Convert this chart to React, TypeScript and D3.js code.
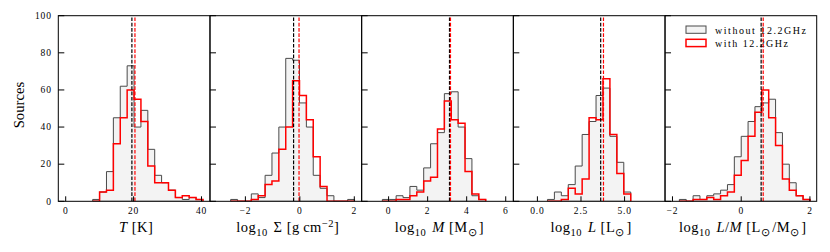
import React from 'react';
import * as d3 from 'd3';

// ---------- data ----------
const yTicks = [0, 20, 40, 60, 80, 100];
const yDomain = [0, 100];

const tDomain = [-2.18, 42.5];
const tTicks = [0, 20, 40];
const tTickLabels = ['0', '20', '40'];
const tEdges = [7.95, 9.98, 12.01, 14.04, 16.07, 18.1, 20.13, 22.16, 24.19, 26.22, 28.25, 30.28, 32.31, 34.34, 36.37, 38.4, 40.43];
const tWithout = [1, 5, 16, 45, 62, 73, 40, 49, 28, 14, 10, 6, 2, 1, 2, 1];
const tWith = [0, 5, 6, 31, 45, 60, 55, 43, 19, 10, 10, 6, 2, 3, 2, 1];
const tMedians = [19.5, 20.4];

const sDomain = [-3.3, 2.27];
const sTicks = [-2, 0, 2];
const sTickLabels = ['\u22122', '0', '2'];
const sEdges = [-2.54, -2.287, -2.035, -1.782, -1.529, -1.276, -1.024, -0.771, -0.518, -0.266, -0.013, 0.24, 0.492, 0.745, 0.998, 1.251, 1.503, 1.756, 2.009];
const sWithout = [1, 0, 0, 4, 2, 14, 26, 40, 77, 76, 53, 40, 14, 7, 3, 0, 0, 1];
const sWith = [0, 0, 0, 1, 3, 9, 11, 28, 40, 65, 57, 44, 24, 8, 0, 0, 0, 0];
const sMedians = [-0.23, -0.03];

const mDomain = [-1.38, 6.39];
const mTicks = [0, 2, 4, 6];
const mTickLabels = ['0', '2', '4', '6'];
const mEdges = [-0.32, 0.033, 0.386, 0.739, 1.092, 1.445, 1.798, 2.151, 2.504, 2.857, 3.21, 3.563, 3.916, 4.269, 4.622, 4.975];
const mWithout = [1, 1, 3, 2, 8, 6, 18, 31, 37, 58, 59, 40, 23, 3, 1];
const mWith = [0, 0, 1, 1, 3, 5, 11, 13, 39, 54, 44, 42, 16, 4, 1];
const mMedians = [3.12, 3.17];

const lDomain = [-1.38, 7.32];
const lTicks = [0, 2.5, 5];
const lTickLabels = ['0.0', '2.5', '5.0'];
const lEdges = [0.577, 0.975, 1.373, 1.771, 2.169, 2.567, 2.965, 3.363, 3.761, 4.159, 4.557, 4.955, 5.353];
const lWithout = [1, 5, 3, 9, 19, 36, 43, 57, 61, 35, 21, 5];
const lWith = [0, 0, 1, 7, 4, 12, 45, 44, 66, 36, 15, 4];
const lMedians = [3.63, 3.79];

const lmDomain = [-2.217, 2.197];
const lmTicks = [-2, 0, 2];
const lmTickLabels = ['\u22122', '0', '2'];
const lmEdges = [-1.8, -1.6, -1.4, -1.2, -1.0, -0.8, -0.6, -0.4, -0.2, 0.0, 0.2, 0.4, 0.6, 0.8, 1.0, 1.2, 1.4, 1.6, 1.8, 2.0];
const lmWithout = [1, 0, 3, 1, 3, 4, 6, 9, 24, 35, 43, 51, 53, 55, 37, 20, 10, 3, 1];
const lmWith = [0, 0, 1, 1, 2, 1, 3, 5, 14, 22, 35, 48, 60, 45, 30, 12, 6, 3, 1];
const lmMedians = [0.58, 0.64];

const legendLabels = ['without 12.2GHz', 'with 12.2GHz'];
const yLabel = 'Sources';

// ---------- layout ----------
const W = 830;
const H = 252;
const LEFT = 58.3;
const PW = 151.68;
const TOP = 15.7;
const BOTTOM = 201.3;
const FONT = "'Liberation Serif', 'Times New Roman', serif";
const GREY_EDGE = '#4a4a4a';
const GREY_FILL = '#f3f3f3';
const RED = '#ff0000';
const LABEL_FS = 14.5;
const SUB_FS = 10.5;

type P = {
  domain: number[];
  ticks: number[];
  tickLabels: string[];
  edges: number[];
  without: number[];
  withC: number[];
  medians: number[];
  label: React.ReactNode;
};

const sub = (t: string) => (
  <>
    <tspan dy={3.5} fontSize={SUB_FS}>{t}</tspan>
    <tspan dy={-3.5}>{'\u200A'}</tspan>
  </>
);

const panels: P[] = [
  {
    domain: tDomain, ticks: tTicks, tickLabels: tTickLabels, edges: tEdges, without: tWithout, withC: tWith, medians: tMedians,
    label: (<><tspan fontStyle="italic">T</tspan>{' [K]'}</>),
  },
  {
    domain: sDomain, ticks: sTicks, tickLabels: sTickLabels, edges: sEdges, without: sWithout, withC: sWith, medians: sMedians,
    label: (<>{'log'}{sub('10')}{' \u03A3 [g\u2009cm'}<tspan dy={-5.5} fontSize={SUB_FS}>{'\u22122'}</tspan><tspan dy={5.5}>{']'}</tspan></>),
  },
  {
    domain: mDomain, ticks: mTicks, tickLabels: mTickLabels, edges: mEdges, without: mWithout, withC: mWith, medians: mMedians,
    label: (<>{'log'}{sub('10')}{' '}<tspan fontStyle="italic">M</tspan>{' [M'}{sub('\u2299')}{']'}</>),
  },
  {
    domain: lDomain, ticks: lTicks, tickLabels: lTickLabels, edges: lEdges, without: lWithout, withC: lWith, medians: lMedians,
    label: (<>{'log'}{sub('10')}{' '}<tspan fontStyle="italic">L</tspan>{' [L'}{sub('\u2299')}{']'}</>),
  },
  {
    domain: lmDomain, ticks: lmTicks, tickLabels: lmTickLabels, edges: lmEdges, without: lmWithout, withC: lmWith, medians: lmMedians,
    label: (<>{'log'}{sub('10')}{' '}<tspan fontStyle="italic">L</tspan>{'/'}<tspan fontStyle="italic">M</tspan>{' [L'}{sub('\u2299')}{'/M'}{sub('\u2299')}{']'}</>),
  },
];

function stepPoints(edges: number[], counts: number[]): [number, number][] {
  const pts: [number, number][] = [[edges[0], 0]];
  counts.forEach((c, k) => {
    pts.push([edges[k], c]);
    pts.push([edges[k + 1], c]);
  });
  pts.push([edges[counts.length], 0]);
  return pts;
}

function Panel({ p, i }: { p: P; i: number }) {
  const x0 = LEFT + i * PW;
  const x = d3.scaleLinear().domain(p.domain).range([x0, x0 + PW]);
  const y = d3.scaleLinear().domain(yDomain).range([BOTTOM, TOP]);
  const line = d3.line<[number, number]>().x((d) => x(d[0])).y((d) => y(d[1]));
  const greyPts = stepPoints(p.edges, p.without);
  const redPts = stepPoints(p.edges, p.withC);
  const clipId = `clip${i}`;
  const isLast = i === panels.length - 1;
  return (
    <g>
      <defs>
        <clipPath id={clipId}>
          <rect x={x0} y={TOP} width={PW} height={BOTTOM - TOP} />
        </clipPath>
      </defs>
      <g clipPath={`url(#${clipId})`}>
        <path d={line(greyPts) + 'Z'} fill={GREY_FILL} stroke={GREY_EDGE} strokeWidth={1} strokeLinejoin="miter" />
        <path d={line(redPts) || ''} fill="none" stroke={RED} strokeWidth={1.5} strokeLinejoin="miter" />
        {isLast && (
          <g fontFamily={FONT} fontSize={10}>
            <rect x={686} y={26} width={20} height={7.3} fill={GREY_FILL} stroke={GREY_EDGE} strokeWidth={1} />
            <rect x={686} y={39.3} width={20} height={7.3} fill="white" stroke={RED} strokeWidth={1.5} />
            <text x={715} y={33.5} textLength={91} lengthAdjust="spacing">{legendLabels[0]}</text>
            <text x={715} y={46.8} textLength={73} lengthAdjust="spacing">{legendLabels[1]}</text>
          </g>
        )}
        <line x1={x(p.medians[0])} x2={x(p.medians[0])} y1={y(0)} y2={y(100)} stroke="black" strokeWidth={1.2} strokeDasharray="3.7,1.6" />
        <line x1={x(p.medians[1])} x2={x(p.medians[1])} y1={y(0)} y2={y(100)} stroke={RED} strokeWidth={1.2} strokeDasharray="3.7,1.6" />
      </g>
      {yTicks.map((t) => (
        <line key={'yt' + t} x1={x0} x2={x0 + 6} y1={y(t)} y2={y(t)} stroke="black" strokeWidth={1} />
      ))}
      {p.ticks.map((t, k) => (
        <g key={'xt' + t}>
          <line x1={x(t)} x2={x(t)} y1={BOTTOM} y2={BOTTOM - 5} stroke="black" strokeWidth={1} />
          <text x={x(t)} y={214.2} textAnchor="middle" fontFamily={FONT} fontSize={9.5} letterSpacing={0.8}>{p.tickLabels[k]}</text>
        </g>
      ))}
      <rect x={x0} y={TOP} width={PW} height={BOTTOM - TOP} fill="none" stroke="black" strokeWidth={1} />
      <text x={x0 + PW / 2 + 2} y={232} textAnchor="middle" fontFamily={FONT} fontSize={LABEL_FS} letterSpacing={0.5}>{p.label}</text>
    </g>
  );
}

export default function App() {
  const y = d3.scaleLinear().domain(yDomain).range([BOTTOM, TOP]);
  return (
    <svg width={W} height={H} style={{ position: 'absolute', left: 0, top: 0, background: 'white' }}>
      <rect x={0} y={0} width={W} height={H} fill="white" />
      {panels.map((p, i) => (
        <Panel key={i} p={p} i={i} />
      ))}
      {yTicks.map((t) => (
        <text key={'yl' + t} x={51.7} y={y(t) + 3.2} textAnchor="end" fontFamily={FONT} fontSize={9.5} letterSpacing={0.8}>{t}</text>
      ))}
      <text transform={`translate(23.5,105) rotate(-90)`} textAnchor="middle" fontFamily={FONT} fontSize={14.5} textLength={46.7} lengthAdjust="spacingAndGlyphs">{yLabel}</text>
    </svg>
  );
}
